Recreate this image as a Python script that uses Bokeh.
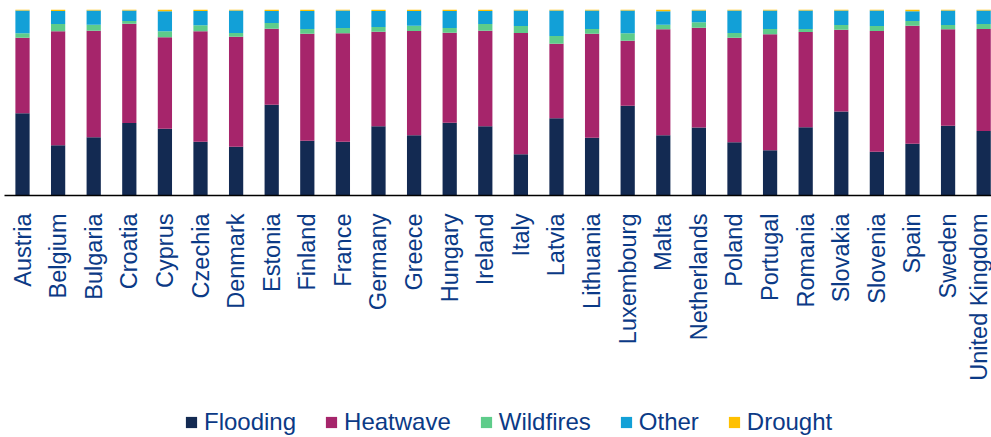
from bokeh.plotting import figure
from bokeh.models import Range1d, FixedTicker, Legend, LegendItem, ColumnDataSource
from bokeh.layouts import column
from bokeh.embed import file_html
from bokeh.resources import INLINE
import math

countries = ["Austria", "Belgium", "Bulgaria", "Croatia", "Cyprus", "Czechia", "Denmark",
             "Estonia", "Finland", "France", "Germany", "Greece", "Hungary", "Ireland",
             "Italy", "Latvia", "Lithuania", "Luxembourg", "Malta", "Netherlands", "Poland",
             "Portugal", "Romania", "Slovakia", "Slovenia", "Spain", "Sweden", "United Kingdom"]

flooding = [44.2, 27.0, 31.3, 39.0, 35.9, 28.9, 26.2, 48.8, 29.5, 28.9, 37.2, 32.4, 39.1, 37.2,
            22.2, 41.5, 31.1, 48.3, 32.4, 36.5, 28.6, 24.3, 36.7, 45.1, 23.5, 27.8, 37.5, 34.7]
heatwave = [40.6, 61.3, 57.3, 53.4, 49.2, 59.4, 59.2, 40.9, 57.5, 58.3, 50.9, 56.0, 48.4, 51.4,
            65.2, 40.1, 55.9, 34.9, 57.0, 53.7, 56.2, 62.4, 51.2, 44.0, 64.9, 63.5, 51.9, 54.8]
wildfires = [2.4, 3.9, 3.2, 1.4, 3.2, 3.2, 2.0, 3.0, 2.5, 2.9, 2.5, 2.9, 2.6, 3.6,
             3.7, 4.2, 2.5, 4.0, 2.4, 2.9, 2.6, 2.8, 1.6, 2.6, 2.7, 2.5, 2.3, 2.7]
other = [12.2, 7.0, 7.6, 5.6, 10.7, 7.7, 12.0, 6.5, 9.7, 9.3, 8.6, 7.9, 9.1, 7.0,
         8.3, 13.6, 9.9, 12.2, 7.2, 6.3, 12.0, 9.9, 9.9, 7.7, 8.3, 5.2, 7.7, 7.2]
drought = [0.6, 0.8, 0.6, 0.6, 1.0, 0.8, 0.6, 0.8, 0.8, 0.6, 0.8, 0.8, 0.8, 0.8,
           0.6, 0.6, 0.6, 0.6, 1.0, 0.6, 0.6, 0.6, 0.6, 0.6, 0.6, 1.0, 0.6, 0.6]

series = ["Flooding", "Heatwave", "Wildfires", "Other", "Drought"]
colors = ["#132A52", "#A6256B", "#5ECC8A", "#12A0D7", "#FFC000"]

pos = list(range(len(countries)))
source = ColumnDataSource(dict(x=pos, Flooding=flooding, Heatwave=heatwave,
                               Wildfires=wildfires, Other=other, Drought=drought))

TEXT = "#0B3A86"
FONT = "Liberation Sans"

# main chart
p = figure(width=991, height=405, output_backend="svg", toolbar_location=None,
           x_range=Range1d(-0.506, 27.22), y_range=Range1d(0, 100),
           y_axis_location=None, min_border_top=9, min_border_left=4,
           min_border_right=0, min_border_bottom=210)
p.outline_line_color = None
p.grid.visible = False
p.background_fill_color = "white"
p.border_fill_color = "white"

p.vbar_stack(series, x="x", width=0.4, color=colors, line_color=None, source=source)

ax = p.xaxis[0]
ax.ticker = FixedTicker(ticks=pos)
ax.major_label_overrides = {i: c for i, c in enumerate(countries)}
ax.major_label_orientation = math.pi / 2
ax.major_tick_line_color = None
ax.minor_tick_line_color = None
ax.major_tick_out = 0
ax.major_tick_in = 0
ax.major_label_standoff = 18
ax.axis_line_color = "#000000"
ax.axis_line_width = 1.5
ax.major_label_text_font = FONT
ax.major_label_text_font_size = "23.5px"
ax.major_label_text_color = TEXT

# legend strip
lg = figure(width=991, height=32, output_backend="svg", toolbar_location=None,
            x_range=Range1d(1000, 1001), y_range=Range1d(1000, 1001),
            x_axis_location=None, y_axis_location=None,
            min_border_top=0, min_border_left=0, min_border_right=0, min_border_bottom=0)
lg.outline_line_color = None
lg.grid.visible = False
lg_renderers = lg.vbar_stack(series, x="x", width=0.4, color=colors, line_color=None, source=source)

legend = Legend(items=[LegendItem(label=s, renderers=[r]) for s, r in zip(series, lg_renderers)],
                orientation="horizontal", location=(180, 1))
legend.label_text_font = FONT
legend.label_text_font_size = "24px"
legend.label_text_color = TEXT
legend.glyph_width = 14
legend.glyph_height = 14
legend.label_standoff = 6
legend.spacing = 28
legend.padding = 0
legend.margin = 0
legend.border_line_color = None
legend.background_fill_alpha = 0
lg.add_layout(legend, "center")

layout = column(p, lg, spacing=0)
open("out.html", "w").write(file_html(layout, INLINE))
